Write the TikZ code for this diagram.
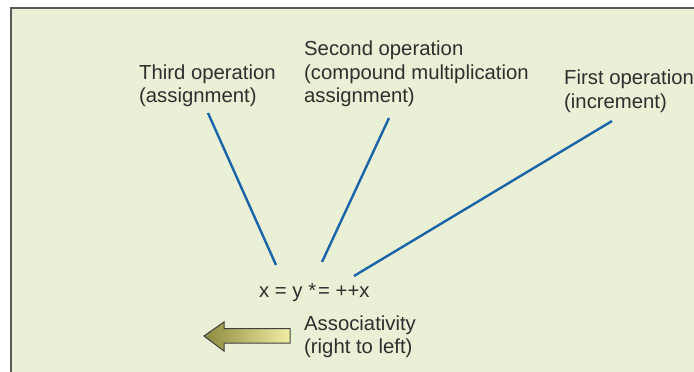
\documentclass[tikz,border=0pt]{standalone}
\usepackage{fontspec}
\setmainfont{Liberation Sans}
\definecolor{bg}{HTML}{EAF0D6}
\definecolor{lineblue}{HTML}{1A64A8}
\definecolor{txt}{HTML}{2E2E2E}
\definecolor{olive}{HTML}{8C8A3E}
\definecolor{paleyel}{HTML}{F2EDA4}
\begin{document}
\begin{tikzpicture}[x=1pt,y=-1pt,
  lbl/.style={anchor=base west,font=\fontsize{20.3}{24}\selectfont,text=txt,inner sep=0pt},
  conn/.style={draw=lineblue,line width=2.4pt}]
\useasboundingbox (0,0) rectangle (694,372);
\begin{scope}
\clip (0,0) rectangle (694,372);
\draw[fill=bg,draw=black!65,line width=2pt] (11,8) rectangle (710,390);
\end{scope}
\node[lbl] (thirdA) at (139,79) {Third operation};
\node[lbl] (thirdB) at (139,102.5) {(assignment)};
\node[lbl] (secondA) at (304,55) {Second operation};
\node[lbl] (secondB) at (304,79) {(compound multiplication};
\node[lbl] (secondC) at (304,102.5) {assignment)};
\node[lbl] (firstA) at (564,84.5) {First operation};
\node[lbl] (firstB) at (564,108) {(increment)};
\node[lbl] (expr) at (259,297) {x = y *\kern2pt= ++x};
\node[lbl] (assocA) at (304,330) {Associativity};
\node[lbl] (assocB) at (304,353) {(right to left)};
\coordinate (t1) at (208,113); \coordinate (t2) at (276,265);
\coordinate (s1) at (389,118); \coordinate (s2) at (322,262);
\coordinate (f1) at (612,121); \coordinate (f2) at (354,276);
\draw[conn] (t1) -- (t2);
\draw[conn] (s1) -- (s2);
\draw[conn] (f1) -- (f2);
\draw[draw=black!75,line width=1pt,left color=olive,right color=paleyel]
  (204,336) -- (224,322) -- (224,328.5) -- (290,328.5) -- (290,343) -- (224,343) -- (224,351) -- cycle;
\end{tikzpicture}
\end{document}
